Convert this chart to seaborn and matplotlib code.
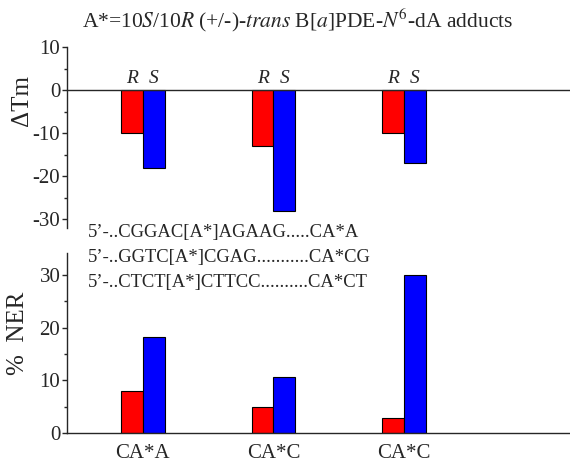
import pandas as pd
import matplotlib
matplotlib.use('Agg')
import matplotlib.pyplot as plt
import seaborn as sns

# data
groups = ['g1', 'g2', 'g3']
tick_labels = ['CA*A', 'CA*C', 'CA*C']
isomers = ['R', 'S']
dtm_R = [-10, -13, -10]
dtm_S = [-18, -28, -17]
ner_R = [8.0, 5.0, 2.8]
ner_S = [18.3, 10.6, 30.0]
sequences = ["5\u2019-..CGGAC[A*]AGAAG.....CA*A",
             "5\u2019-..GGTC[A*]CGAG...........CA*CG",
             "5\u2019-..CTCT[A*]CTTCC..........CA*CT"]

sns.set_style('white')
plt.rcParams['font.family'] = ['Liberation Serif', 'DejaVu Serif']
plt.rcParams['mathtext.fontset'] = 'stix'
plt.rcParams['axes.unicode_minus'] = False

df = pd.DataFrame({
    'group': groups * 2,
    'isomer': ['R'] * 3 + ['S'] * 3,
    'dtm': dtm_R + dtm_S,
    'ner': ner_R + ner_S,
})
pal = {'R': '#ff0000', 'S': '#0000ff'}

fig = plt.figure(figsize=(5.7, 4.62), dpi=100)
ax1 = fig.add_axes([67/570, 1 - 228/462, 1 - 67/570, 181/462])
ax2 = fig.add_axes([67/570, 1 - 433/462, 1 - 67/570, 180/462])

for ax, col in [(ax1, 'dtm'), (ax2, 'ner')]:
    sns.barplot(data=df, x='group', y=col, hue='isomer', hue_order=isomers,
                order=groups, palette=pal, saturation=1, width=0.333, gap=0,
                edgecolor='black', linewidth=0.8, legend=False, ax=ax)
    ax.set_xlim(-0.58, 3.27)
    ax.set_xlabel('')
    for s in ['top', 'right']:
        ax.spines[s].set_visible(False)
    ax.spines['left'].set_linewidth(1.0)
    ax.spines['bottom'].set_linewidth(1.0)
    ax.tick_params(axis='y', which='major', direction='out', length=3.8,
                   width=1, left=True, labelsize=15, pad=1)
    ax.tick_params(axis='y', which='minor', direction='out', length=2.2,
                   width=1, left=True)
    ax.tick_params(axis='x', length=0)

# top panel
ax1.set_ylim(-32, 10)
ax1.set_yticks([10, 0, -10, -20, -30])
ax1.set_yticks([5, -5, -15, -25], minor=True)
ax1.spines['bottom'].set_position(('data', 0))
ax1.set_xticks([])
ax1.set_ylabel('\u0394Tm', fontsize=18)
ax1.yaxis.set_label_coords(-0.068, 0.707)
for p in ax1.patches:
    if p.get_height() == 0:
        continue
    lbl = 'R' if p.get_facecolor()[0] > 0.5 else 'S'
    ax1.text(p.get_x() + p.get_width() / 2, 2.8, lbl, fontsize=14,
             style='italic', ha='center', va='center')

# bottom panel
ax2.set_ylim(0, 34.2)
ax2.set_yticks([0, 10, 20, 30])
ax2.set_yticks([5, 15, 25], minor=True)
ax2.set_xticks(range(len(groups)))
ax2.set_xticklabels(tick_labels, fontsize=15)
ax2.tick_params(axis='x', pad=8)
ax2.set_ylabel('%  NER', fontsize=18)
ax2.yaxis.set_label_coords(-0.075, 0.555)

for i, s in enumerate(sequences):
    fig.text(88/570, 1 - (233 + 24.5 * i)/462, s, fontsize=13.4,
             ha='left', va='center')

fig.text(298/570, 1 - 20/462,
         r'A*=10$\mathit{S}$/10$\mathit{R}$ (+/-)-$\mathit{trans}$ B[$\mathit{a}$]PDE-$\mathit{N}^{6}$-dA adducts',
         fontsize=15.5, ha='center', va='center')

fig.savefig('out.png', dpi=100)
